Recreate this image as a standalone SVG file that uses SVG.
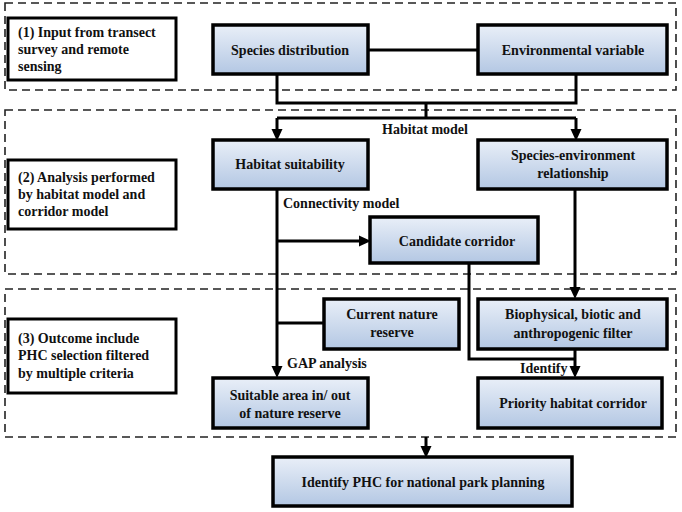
<svg xmlns="http://www.w3.org/2000/svg" width="682" height="512" viewBox="0 0 682 512">
<defs>
<linearGradient id="blue" x1="0" y1="0" x2="0" y2="1">
<stop offset="0" stop-color="#e9eff8"/>
<stop offset="1" stop-color="#b3c7e3"/>
</linearGradient>
<marker id="arr" markerUnits="userSpaceOnUse" markerWidth="12" markerHeight="12" viewBox="0 0 12 12" refX="5" refY="6" orient="auto">
<path d="M0,0.5 L12,6 L0,11.5 z" fill="#000"/>
</marker>
</defs>
<style>
.zone{fill:none;stroke:#222;stroke-width:1.6;stroke-dasharray:8 5}
.lab{fill:#fff;stroke:#000;stroke-width:3}
.node{fill:url(#blue);stroke:#000;stroke-width:3.5}
.c{fill:none;stroke:#000;stroke-width:3}
.a{marker-end:url(#arr)}
text{font-family:"Liberation Serif","Times New Roman",serif;font-weight:bold;font-size:14px;fill:#111}
.m{text-anchor:middle}
</style>
<g id="zones">
<rect class="zone" x="5" y="3" width="671" height="87"/>
<rect class="zone" x="5" y="110" width="671" height="164"/>
<rect class="zone" x="5" y="289" width="671" height="148"/>
</g>
<g id="label1">
<rect class="lab" x="8" y="18" width="168" height="62"/>
<text x="18" y="37">(1) Input  from  transect</text>
<text x="18" y="54">survey and  remote</text>
<text x="18" y="71">sensing</text>
</g>
<g id="label2">
<rect class="lab" x="8" y="160" width="168" height="69"/>
<text x="18" y="182">(2) Analysis performed</text>
<text x="18" y="199">by habitat  model and</text>
<text x="18" y="216">corridor  model</text>
</g>
<g id="label3">
<rect class="lab" x="8" y="319" width="168" height="74"/>
<text x="18" y="343">(3) Outcome  include</text>
<text x="18" y="360">PHC  selection filtered</text>
<text x="18" y="378">by multiple  criteria</text>
</g>
<g id="connectors">
<path class="c" d="M368,50 H478"/>
<path class="c" d="M277,74 V103 H576 V74"/>
<path class="c" d="M426,103 V118"/>
<path class="c" d="M277,118 H576"/>
<path class="c a" d="M277,118 V134"/>
<path class="c a" d="M576,118 V134"/>
<path class="c a" d="M277,189 V371"/>
<path class="c a" d="M277,241 H364"/>
<path class="c" d="M324,323 H277"/>
<path class="c a" d="M575,189 V292"/>
<path class="c" d="M469,263 V359 H575"/>
<path class="c a" d="M575,349 V371"/>
<path class="c a" d="M426,437 V451"/>
</g>
<g id="edge-labels">
<text class="m" x="425" y="134">Habitat  model</text>
<text x="283" y="208">Connectivity  model</text>
<text x="287" y="368">GAP  analysis</text>
<text x="520" y="373">Identify</text>
</g>
<g id="species-distribution">
<rect class="node" x="213" y="25" width="155" height="49"/>
<text class="m" x="290" y="55">Species distribution</text>
</g>
<g id="environmental-variable">
<rect class="node" x="478" y="25" width="189" height="49"/>
<text class="m" x="573" y="55">Environmental  variable</text>
</g>
<g id="habitat-suitability">
<rect class="node" x="213" y="140" width="155" height="49"/>
<text class="m" x="290" y="169">Habitat  suitability</text>
</g>
<g id="species-environment">
<rect class="node" x="478" y="140" width="189" height="49"/>
<text class="m" x="573" y="160">Species-environment</text>
<text class="m" x="573" y="178">relationship</text>
</g>
<g id="candidate-corridor">
<rect class="node" x="370" y="217" width="168" height="46"/>
<text class="m" x="457" y="246">Candidate  corridor</text>
</g>
<g id="current-nature-reserve">
<rect class="node" x="324" y="299" width="135" height="50"/>
<text class="m" x="392" y="319">Current  nature</text>
<text class="m" x="392" y="337">reserve</text>
</g>
<g id="biophysical-filter">
<rect class="node" x="478" y="299" width="189" height="50"/>
<text class="m" x="573" y="319">Biophysical, biotic and</text>
<text class="m" x="573" y="338">anthropogenic  filter</text>
</g>
<g id="suitable-area">
<rect class="node" x="213" y="378" width="155" height="50"/>
<text class="m" x="290" y="400">Suitable area in/ out</text>
<text class="m" x="290" y="418">of nature  reserve</text>
</g>
<g id="priority-habitat-corridor">
<rect class="node" x="478" y="378" width="184" height="50"/>
<text class="m" x="573" y="408">Priority  habitat  corridor</text>
</g>
<g id="identify-phc">
<rect class="node" x="273" y="457" width="299" height="49"/>
<text class="m" x="423" y="487">Identify  PHC  for  national  park  planning</text>
</g>
</svg>
